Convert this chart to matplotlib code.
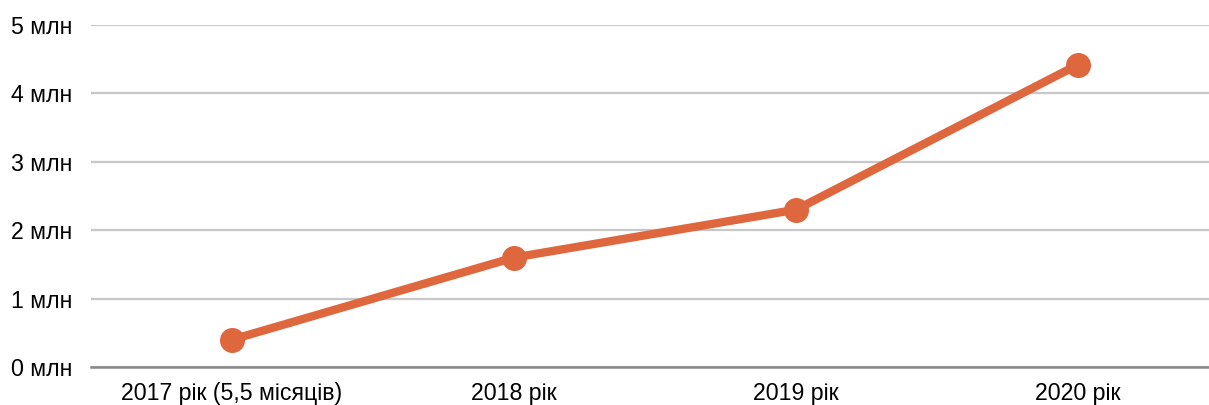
import matplotlib.pyplot as plt

plt.rcParams['font.family'] = ['Liberation Sans', 'DejaVu Sans']

categories = ["2017 рік (5,5 місяців)", "2018 рік", "2019 рік", "2020 рік"]
values = [0.4, 1.6, 2.3, 4.42]
yticks = [0, 1, 2, 3, 4, 5]
ytick_labels = ["0 млн", "1 млн", "2 млн", "3 млн", "4 млн", "5 млн"]

fig = plt.figure(figsize=(12.09, 4.05), dpi=100)
ax = fig.add_axes([91 / 1209, 38 / 405, 1128 / 1209, 342 / 405])

ax.plot(range(len(categories)), values, color="#DE673D", linewidth=6,
        marker="o", markersize=17, solid_capstyle="round", zorder=3)

ax.set_xlim(-0.5, len(categories) - 0.5)
ax.set_ylim(0, 5)
ax.set_yticks(yticks)
ax.set_yticklabels(ytick_labels)
ax.set_xticks(range(len(categories)))
ax.set_xticklabels(categories)

ax.grid(axis="y", color="#C8C8C8", linewidth=1.6)
ax.set_axisbelow(True)
for s in ["top", "right", "left"]:
    ax.spines[s].set_visible(False)
ax.spines["bottom"].set_color("#888888")
ax.spines["bottom"].set_linewidth(1.8)
ax.spines["bottom"].set_zorder(2)
ax.tick_params(length=0, labelsize=16.7, colors="black")
ax.tick_params(axis="y", pad=13.5)
ax.tick_params(axis="x", pad=11)

fig.savefig("out.png", dpi=100)
